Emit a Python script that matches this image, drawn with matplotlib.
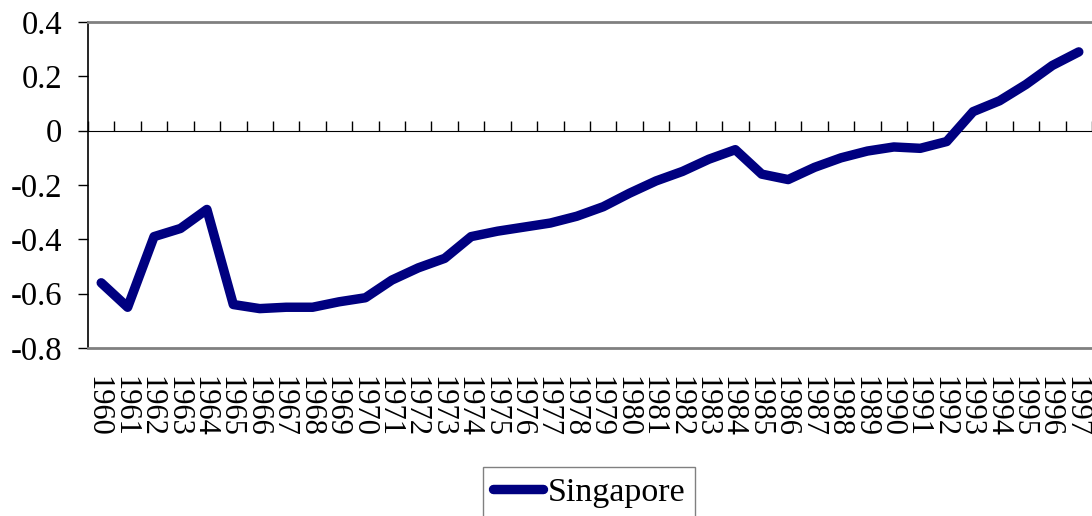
import matplotlib
matplotlib.use('Agg')
import matplotlib.pyplot as plt
import matplotlib.transforms as mtransforms
import numpy as np

plt.rcParams['font.family'] = ['Liberation Serif', 'DejaVu Serif']

years = [str(y) for y in range(1960, 1998)]
singapore = [-0.56, -0.65, -0.39, -0.36, -0.29, -0.64, -0.655, -0.65, -0.65, -0.63,
             -0.615, -0.55, -0.505, -0.47, -0.39, -0.37, -0.355, -0.34, -0.315, -0.28,
             -0.23, -0.185, -0.15, -0.105, -0.07, -0.16, -0.18, -0.135, -0.10, -0.075,
             -0.06, -0.065, -0.04, 0.07, 0.11, 0.17, 0.24, 0.29]
yticks = [-0.8, -0.6, -0.4, -0.2, 0, 0.2, 0.4]
ylabels = ['-0.8', '-0.6', '-0.4', '-0.2', '0', '0.2', '0.4']

fig = plt.figure(figsize=(10.92, 5.16), dpi=100)
ax = fig.add_axes([88 / 1092, 1 - 348 / 516, 1004 / 1092, 326 / 516])

x = np.arange(len(years))
ax.plot(x, singapore, color='#000080', lw=6.8, solid_capstyle='round',
        solid_joinstyle='round', label='Singapore', zorder=3)

ax.set_xlim(-0.5, len(years) - 0.5)
ax.set_ylim(-0.8, 0.4)
ax.set_yticks(yticks)
ax.set_yticklabels(ylabels, fontsize=23.5)
ax.tick_params(axis='y', direction='out', length=7.5, width=1, pad=11)
ax.set_xticks(x)
ax.set_xticklabels(years, rotation=270, fontsize=22)
ax.tick_params(axis='x', length=0, pad=20)
shift = mtransforms.ScaledTranslation(-3 / 100, 0, fig.dpi_scale_trans)
for lbl in ax.get_xticklabels():
    lbl.set_transform(lbl.get_transform() + shift)

for s in ['top', 'bottom']:
    ax.spines[s].set_color('#808080')
    ax.spines[s].set_linewidth(2)
ax.spines['right'].set_visible(False)
ax.spines['left'].set_linewidth(1.2)

# category axis crossing at zero
zero = ax.secondary_xaxis(0.8 / 1.2)
zero.set_xticks(np.arange(len(years) + 1) - 0.5)
zero.set_xticklabels([])
zero.tick_params(direction='out', length=7.5, width=1)
zero.spines['bottom'].set_linewidth(1.2)

fig.legend(loc='upper left', bbox_to_anchor=(483 / 1092, 1 - 467 / 516),
           fontsize=24.5, fancybox=False, edgecolor='#808080', framealpha=1,
           handlelength=1.45, handletextpad=0.15, borderpad=0.3,
           borderaxespad=0)

fig.savefig('out.png', dpi=100)
